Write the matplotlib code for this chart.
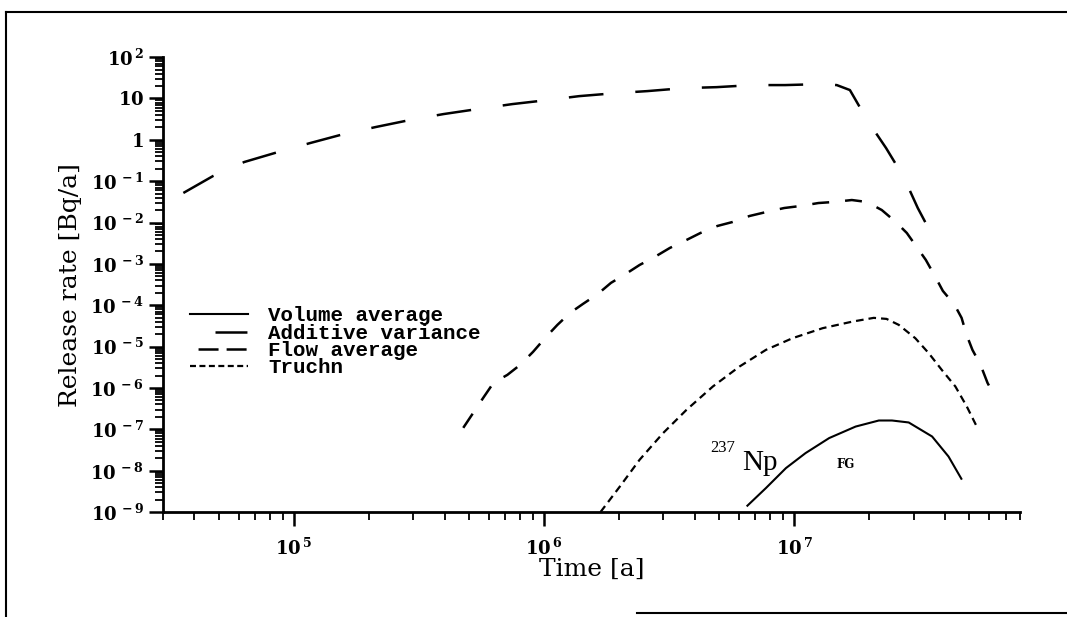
import numpy as np
import matplotlib.pyplot as plt
from matplotlib.lines import Line2D
from matplotlib.ticker import LogLocator, FuncFormatter, NullFormatter

plt.rcParams['lines.scale_dashes'] = False
plt.rcParams['mathtext.fontset'] = 'custom'
plt.rcParams['mathtext.rm'] = 'DejaVu Serif:bold'
plt.rcParams['mathtext.bf'] = 'DejaVu Serif:bold'
plt.rcParams['mathtext.it'] = 'DejaVu Serif:bold'

# release rates of Np-237 [Bq/a] over time [a]
t_volume = [6.50e6, 7.71e6, 9.27e6, 1.11e7, 1.38e7, 1.76e7, 2.18e7, 2.46e7, 2.87e7, 3.56e7, 4.14e7, 4.66e7]
r_volume = [1.43e-9, 3.82e-9, 1.16e-8, 2.67e-8, 6.17e-8, 1.17e-7, 1.64e-7, 1.64e-7, 1.47e-7, 6.73e-8, 2.21e-8, 6.41e-9]

t_additive = [3.61e4, 4.75e4, 6.32e4, 8.63e4, 1.16e5, 1.58e5, 2.12e5, 2.90e5, 3.96e5, 5.41e5,
              7.46e5, 1.03e6, 1.38e6, 1.94e6, 2.59e6, 3.61e6, 4.89e6, 6.81e6, 9.20e6, 1.28e7,
              1.48e7, 1.67e7, 1.97e7, 2.33e7, 2.74e7, 3.12e7, 3.61e7]
r_additive = [5.2e-2, 0.134, 0.291, 0.507, 0.837, 1.38, 2.04, 3.01, 4.20, 5.55,
              7.32, 9.15, 11.4, 13.5, 15.1, 17.8, 18.8, 21.1, 21.1, 22.3,
              21.1, 16.0, 2.84, 0.634, 0.126, 2.25e-2, 4.25e-3]

t_flow = [4.75e5, 5.71e5, 6.27e5, 7.13e5, 8.02e5, 9.03e5, 1.01e6, 1.13e6, 1.27e6, 1.43e6,
          1.64e6, 1.85e6, 2.12e6, 2.41e6, 2.77e6, 3.18e6, 3.71e6, 4.22e6, 4.93e6, 5.66e6,
          6.62e6, 7.73e6, 9.12e6, 1.06e7, 1.25e7, 1.44e7, 1.70e7, 1.95e7, 2.24e7, 2.55e7,
          2.82e7, 3.09e7, 3.36e7, 3.65e7, 3.93e7, 4.38e7, 4.67e7, 4.89e7, 5.16e7, 5.56e7,
          5.93e7, 6.38e7]
r_flow = [1.09e-7, 5.8e-7, 1.33e-6, 2.08e-6, 3.63e-6, 7.48e-6, 1.63e-5, 3.36e-5, 6.55e-5, 1.08e-4,
          1.88e-4, 3.48e-4, 5.73e-4, 9.46e-4, 1.48e-3, 2.43e-3, 3.80e-3, 5.61e-3, 8.28e-3, 1.03e-2,
          1.44e-2, 1.80e-2, 2.25e-2, 2.52e-2, 2.97e-2, 3.15e-2, 3.51e-2, 3.15e-2, 2.01e-2, 1.03e-2,
          5.61e-3, 2.57e-3, 1.25e-3, 5.13e-4, 2.23e-4, 1.02e-4, 4.97e-5, 1.93e-5, 8.37e-6, 3.63e-6,
          1.33e-6, 5.8e-7]

t_truchn = [1.68e6, 2.01e6, 2.41e6, 2.99e6, 3.71e6, 4.73e6, 6.04e6, 7.71e6, 9.84e6, 1.30e7,
            1.71e7, 2.08e7, 2.34e7, 2.62e7, 3.05e7, 3.45e7, 3.89e7, 4.41e7, 4.90e7, 5.37e7]
r_truchn = [1.0e-9, 4.18e-9, 1.85e-8, 8.13e-8, 2.97e-7, 1.09e-6, 3.30e-6, 8.37e-6, 1.60e-5, 2.80e-5,
            4.04e-5, 4.97e-5, 4.69e-5, 3.36e-5, 1.60e-5, 6.97e-6, 2.75e-6, 1.09e-6, 3.57e-7, 1.17e-7]

labels = ['Volume average', 'Additive variance', 'Flow average', 'Truchn']

fig = plt.figure(figsize=(10.67, 6.17), dpi=100)
ax = fig.add_axes([0.153, 0.170, 0.803, 0.7374])

ax.plot(t_volume, r_volume, color='black', lw=1.5)
ax.plot(t_additive, r_additive, color='black', lw=1.8, ls=(0, (25, 23)))
ax.plot(t_flow, r_flow, color='black', lw=1.8, ls=(0, (12.2, 11.5)))
ax.plot(t_truchn, r_truchn, color='black', lw=1.6, ls=(0, (5.5, 3.6)))

ax.set_xscale('log')
ax.set_yscale('log')
ax.set_xlim(3e4, 8e7)
ax.set_ylim(1e-9, 1e2)

for s in ['top', 'right']:
    ax.spines[s].set_visible(False)
for s in ['left', 'bottom']:
    ax.spines[s].set_linewidth(2)

def log_label(v, pos):
    e = int(round(np.log10(v)))
    if e == 0:
        return '$1$'
    if e == 1:
        return '$10$'
    return r'$10^{\,%d}$' % e

ax.xaxis.set_major_locator(LogLocator(base=10, numticks=20))
ax.xaxis.set_minor_locator(LogLocator(base=10, subs=np.arange(2, 10), numticks=20))
ax.yaxis.set_major_locator(LogLocator(base=10, numticks=20))
ax.yaxis.set_minor_locator(LogLocator(base=10, subs=np.arange(2, 10), numticks=20))
ax.xaxis.set_major_formatter(FuncFormatter(log_label))
ax.yaxis.set_major_formatter(FuncFormatter(log_label))
ax.xaxis.set_minor_formatter(NullFormatter())
ax.yaxis.set_minor_formatter(NullFormatter())

ax.tick_params(axis='both', which='major', direction='out', length=10, width=1.8, labelsize=13, pad=4)
ax.tick_params(axis='both', which='minor', direction='out', length=6, width=1.3)
ax.tick_params(axis='x', which='major', pad=8)

ax.set_xlabel('Time [a]', family='DejaVu Serif', fontsize=18, labelpad=0)
ax.set_ylabel('Release rate [Bq/a]', family='DejaVu Serif', fontsize=18, labelpad=6)

handles = [
    Line2D([], [], color='black', lw=1.5),
    Line2D([], [], color='black', lw=1.8, ls=(23, (23, 18))),
    Line2D([], [], color='black', lw=1.8, ls=(14.4, (14.4, 5.8))),
    Line2D([], [], color='black', lw=1.6, ls=(0, (4.3, 2.5))),
]
ax.legend(handles, labels, loc='upper left', bbox_to_anchor=(0.0315, 0.452),
          frameon=False, borderpad=0, borderaxespad=0, handlelength=2.75,
          handletextpad=1.0, labelspacing=-0.08,
          prop={'family': 'Liberation Mono', 'weight': 'bold', 'size': 15})

ax.text(4.6e6, 2.9e-8, '237', family='Liberation Serif', fontsize=12, va='baseline', ha='left')
ax.text(6.2e6, 1.06e-8, 'Np', family='Liberation Serif', fontsize=21, va='baseline', ha='left')
ax.text(1.47e7, 1.18e-8, 'FG', family='DejaVu Serif', weight='bold', fontsize=8.5, va='baseline', ha='left')

# page border
fig.add_artist(Line2D([0.0056, 1.0], [0.9806, 0.9806], transform=fig.transFigure, color='black', lw=1.5))
fig.add_artist(Line2D([0.0056, 0.0056], [0.0, 0.9806], transform=fig.transFigure, color='black', lw=1.5))
fig.add_artist(Line2D([0.597, 1.0], [0.0065, 0.0065], transform=fig.transFigure, color='black', lw=1.5))

fig.savefig('out.png', dpi=100)
